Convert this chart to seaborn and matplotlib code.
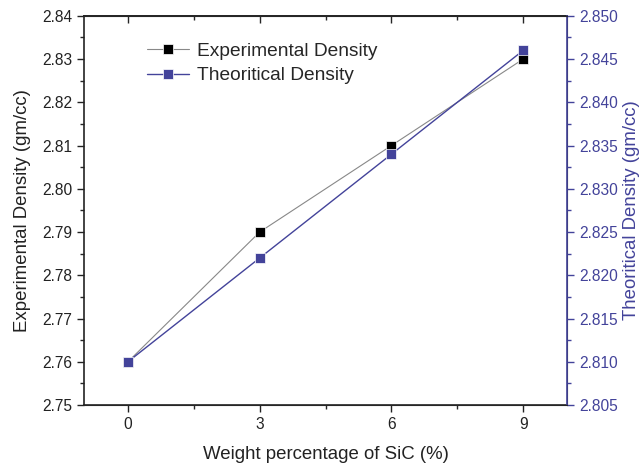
import matplotlib
matplotlib.use("Agg")
import matplotlib.pyplot as plt
import seaborn as sns
import pandas as pd
from matplotlib.ticker import MultipleLocator, FormatStrFormatter

sns.set_style("ticks")
plt.rcParams['font.family'] = ['Liberation Sans', 'DejaVu Sans']

sic_wt = [0, 3, 6, 9]
exp_density = [2.76, 2.79, 2.81, 2.83]
theo_density = [2.810, 2.822, 2.834, 2.846]

df = pd.DataFrame({"wt": sic_wt, "exp": exp_density, "theo": theo_density})

blue = "#43439a"
fig = plt.figure(figsize=(6.39, 4.65), dpi=100)
ax = fig.add_axes([0.1315, 0.129, 0.756, 0.837])
ax2 = ax.twinx()

sns.lineplot(data=df, x="wt", y="exp", ax=ax, color="#888888", lw=0.8,
             marker="s", markersize=7, markerfacecolor="black",
             markeredgecolor="white", markeredgewidth=0.5,
             label="Experimental Density", legend=False)
sns.lineplot(data=df, x="wt", y="theo", ax=ax2, color=blue, lw=1.0,
             marker="s", markersize=7, markerfacecolor=blue,
             markeredgecolor="white", markeredgewidth=0.5,
             label="Theoritical Density", legend=False)

ax.set_xlim(-1, 10)
ax.set_ylim(2.75, 2.84)
ax2.set_ylim(2.805, 2.850)
ax.set_xticks(sic_wt)
ax.xaxis.set_minor_locator(MultipleLocator(1.5))
ax.yaxis.set_major_locator(MultipleLocator(0.01))
ax.yaxis.set_minor_locator(MultipleLocator(0.005))
ax.yaxis.set_major_formatter(FormatStrFormatter("%.2f"))
ax2.yaxis.set_major_locator(MultipleLocator(0.005))
ax2.yaxis.set_minor_locator(MultipleLocator(0.0025))
ax2.yaxis.set_major_formatter(FormatStrFormatter("%.3f"))

fs = 11.2
lfs = 13.4
ax.tick_params(axis="both", which="major", direction="out", length=5, width=1, labelsize=fs, colors="#222222")
ax.tick_params(axis="both", which="minor", direction="out", length=3, width=1)
ax2.tick_params(axis="y", which="major", direction="out", length=5, width=1, labelsize=fs, colors=blue)
ax2.tick_params(axis="y", which="minor", direction="out", length=3, width=1, colors=blue)

top = ax.secondary_xaxis("top")
top.set_xticks(sic_wt)
top.xaxis.set_minor_locator(MultipleLocator(1.5))
top.tick_params(axis="x", which="major", direction="in", length=5, width=1, labeltop=False)
top.tick_params(axis="x", which="minor", direction="in", length=3, width=1)

for s in ["left", "bottom", "top"]:
    ax.spines[s].set_color("#222222")
    ax.spines[s].set_linewidth(1.2)
ax2.spines["right"].set_color(blue)
ax2.spines["right"].set_linewidth(1.2)
ax2.spines["left"].set_visible(False)
top.spines["top"].set_linewidth(1.2)

ax.set_xlabel("Weight percentage of SiC (%)", fontsize=lfs, color="#222222", labelpad=10)
ax.set_ylabel("Experimental Density (gm/cc)", fontsize=lfs, color="#222222", labelpad=8)
ax2.set_ylabel("Theoritical Density (gm/cc)", fontsize=lfs, color=blue, labelpad=4)

h1, l1 = ax.get_legend_handles_labels()
h2, l2 = ax2.get_legend_handles_labels()
ax.legend(h1 + h2, l1 + l2, loc="upper left", bbox_to_anchor=(0.095, 0.975),
          frameon=False, fontsize=13.8, handlelength=2.2, handletextpad=0.4,
          labelspacing=0.35)

fig.savefig("out.png", dpi=100)
